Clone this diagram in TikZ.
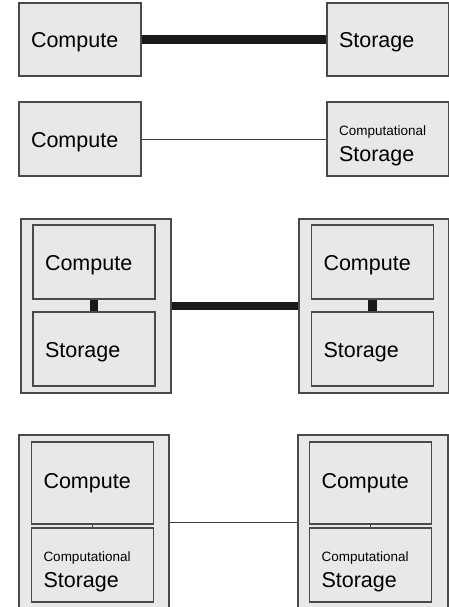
\documentclass[tikz,border=0pt]{standalone}
\usepackage{fontspec}
\setmainfont{Liberation Sans}
\definecolor{boxfill}{HTML}{E7E9E9}
\definecolor{boxline}{HTML}{4A4A4A}
\newcommand\cstext{\fontsize{13.5}{26}\selectfont\rule{0pt}{22.5pt}}

\begin{document}
\begin{tikzpicture}[x=1pt,y=-1pt,
    box/.style={draw=boxline, fill=boxfill, line width=1.3pt, inner xsep=12pt,
        text width=98pt, minimum height=74pt, align=left, font=\fontsize{21.5}{26}\selectfont},
    part/.style={box, text height=17pt, text depth=1pt},
    rack/.style={draw=boxline, fill=boxfill, line width=1.3pt, minimum width=150pt, minimum height=174pt},
    fat/.style={line width=8.5pt, black!90},
    slim/.style={line width=0.9pt, black!75}]
    \useasboundingbox (0,0) rectangle (449,607);
    \clip (0,0) rectangle (449,607);

% separate boxes
\node[part, minimum height=73pt] (cmp1) at (80,39.5) {Compute};
\node[part, minimum height=73pt] (sto1) at (388,39.5) {Storage};
\draw[fat] (cmp1) -- (sto1);

\node[part] (cmp2) at (80,139) {Compute};
\node[box] (sto2) at (388,139) {{\cstext Computational}\\Storage};
\draw[slim] (cmp2) -- (sto2);

% boxes in racks
\node[rack] (rackA) at (96,306) {};
\node[part] (cmp3) at (94,262) {Compute};
\node[part] (sto3) at (94,349) {Storage};
\node[rack] (rackB) at (374,306) {};
\node[part] (cmp4) at (372.5,262) {Compute};
\node[part] (sto4) at (372.5,349) {Storage};
\draw[fat] (rackA) -- (rackB);
\draw[fat] (cmp3) -- (sto3);
\draw[fat] (cmp4) -- (sto4);

\node[rack] (rackC) at (94,522) {};
\node[box, minimum height=82pt] (cmp5) at (92.5,483) {Compute};
\node[box] (sto5) at (92.5,565) {{\cstext Computational}\\Storage};
\node[rack] (rackD) at (373,522) {};
\node[box, minimum height=82pt] (cmp6) at (370.5,483) {Compute};
\node[box] (sto6) at (370.5,565) {{\cstext Computational}\\Storage};
\draw[slim] (rackC) -- (rackD);
\draw[slim] (cmp5) -- (sto5);
\draw[slim] (cmp6) -- (sto6);

\end{tikzpicture}
\end{document}
